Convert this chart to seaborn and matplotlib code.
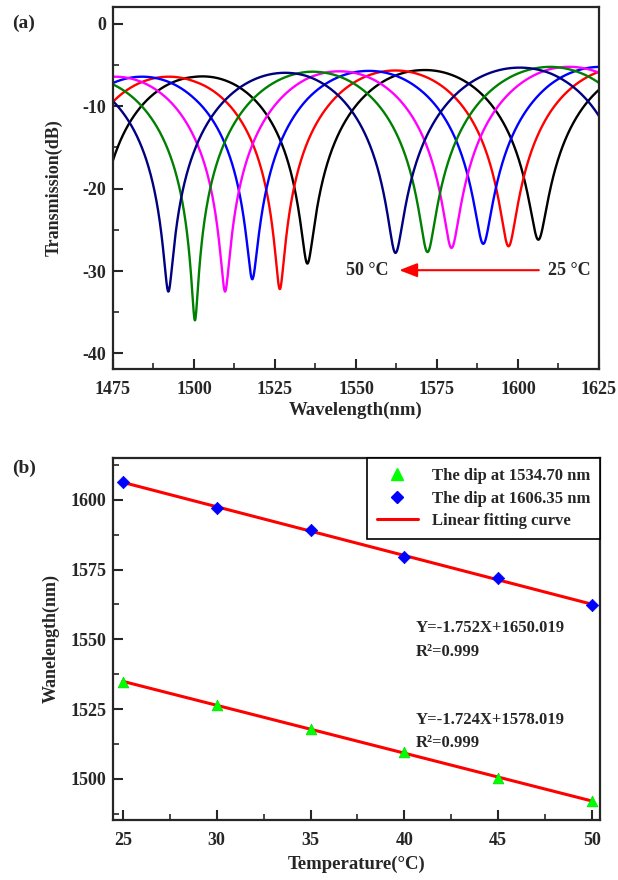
import numpy as np
import pandas as pd
import matplotlib
matplotlib.use("Agg")
import matplotlib.pyplot as plt
from matplotlib.ticker import MultipleLocator
import seaborn as sns

# ---- (a) transmission spectra, one curve per temperature ----
temps = [25, 30, 35, 40, 45, 50]
curve_colors = ["black", "red", "blue", "magenta", "green", "navy"]
dip1_nm = [1535.0, 1526.5, 1518.0, 1509.6, 1500.3, 1492.1]
dip1_db = [-29.1, -32.2, -31.0, -32.5, -36.0, -32.5]
dip2_nm = [1606.3, 1597.1, 1589.3, 1579.5, 1572.1, 1562.2]
dip2_db = [-26.2, -27.0, -26.7, -27.2, -27.7, -27.8]
# dips just outside the window (guessed from the slopes at the edges)
prev_dip_nm = [1468.5, 1458.0, 1450.0, 1441.6, 1429.0, 1424.0]
next_dip_nm = [1679.0, 1670.0, 1662.0, 1652.0, 1647.0, 1637.5]
# upper envelope of the fringes
env_nm = [1475, 1500, 1535, 1570, 1610, 1625]
env_db = [-6.4, -6.4, -5.8, -5.6, -5.2, -5.2]

# ---- (b) dip wavelength vs temperature ----
temp_b = [25, 30, 35, 40, 45, 50]
dip_low = [1534.7, 1526.5, 1518.0, 1509.6, 1500.3, 1492.1]
dip_high = [1606.35, 1597.1, 1589.3, 1579.5, 1572.1, 1562.2]
eq_high = ["Y=-1.752X+1650.019", "R²=0.999"]
eq_low = ["Y=-1.724X+1578.019", "R²=0.999"]

# build the spectra from the read-off dips (two-beam fringe shape)
wl = np.linspace(1475, 1625, 1801)
frames = []
for i, t in enumerate(temps):
    dips = [prev_dip_nm[i], dip1_nm[i], dip2_nm[i], next_dip_nm[i]]
    depths = [dip1_db[i], dip1_db[i], dip2_db[i], dip2_db[i]]
    phase = np.interp(wl, dips, np.arange(4) * np.pi)
    i_min = 10 ** (np.interp(wl, dips, depths) / 10)
    i_max = 10 ** (np.interp(wl, env_nm, env_db) / 10)
    trans = i_min + (i_max - i_min) * np.sin(phase) ** 2
    frames.append(pd.DataFrame({"wl": wl, "db": 10 * np.log10(trans), "temp": t}))
spec = pd.concat(frames, ignore_index=True)

sns.set_theme(style="ticks")
plt.rcParams["font.family"] = ["Liberation Serif", "DejaVu Serif"]
plt.rcParams["font.weight"] = "bold"
plt.rcParams["axes.labelweight"] = "bold"
plt.rcParams["axes.linewidth"] = 1.6
plt.rcParams["axes.unicode_minus"] = False

fig = plt.figure(figsize=(6.18, 8.8), dpi=100)
ax1 = fig.add_axes([0.1828, 0.5807, 0.7864, 0.4114])
ax2 = fig.add_axes([0.1828, 0.0682, 0.788, 0.4114])

sns.lineplot(data=spec, x="wl", y="db", hue="temp", hue_order=temps,
             palette=dict(zip(temps, curve_colors)), estimator=None, sort=False,
             linewidth=1.7, legend=False, ax=ax1)
ax1.set_xlim(1475, 1625)
ax1.set_ylim(-41.9, 2.07)
ax1.xaxis.set_major_locator(MultipleLocator(25))
ax1.xaxis.set_minor_locator(MultipleLocator(12.5))
ax1.yaxis.set_major_locator(MultipleLocator(10))
ax1.yaxis.set_minor_locator(MultipleLocator(5))
ax1.set_xlabel("Wavelength(nm)", fontsize=13.5)
ax1.set_ylabel("Transmission(dB)", fontsize=13)
ax1.xaxis.set_label_coords(0.5, -0.091)
ax1.yaxis.set_label_coords(-0.103, 0.5)

# temperature arrow
ax1.annotate("", xy=(1562.5, -29.9), xytext=(1607.3, -29.9),
             arrowprops=dict(arrowstyle="-|>,head_length=0.9,head_width=0.35",
                             color="red", lw=1.5))
ax1.text(1559.9, -29.9, "50 °C", ha="right", va="center", fontsize=13, fontweight="bold")
ax1.text(1609.3, -29.9, "25 °C", ha="left", va="center", fontsize=13, fontweight="bold")

# ---- panel (b) ----
sns.regplot(x=temp_b, y=dip_low, ci=None, scatter=False, color="red",
            line_kws=dict(lw=2.2), ax=ax2)
sns.regplot(x=temp_b, y=dip_high, ci=None, scatter=False, color="red",
            line_kws=dict(lw=2.2), ax=ax2)
sns.scatterplot(x=temp_b, y=dip_low, marker="^", color="#00ff00", s=60,
                edgecolor="#00dd00", linewidth=0.5, zorder=5, ax=ax2)
sns.scatterplot(x=temp_b, y=dip_high, marker="D", color="#0000ff", s=40,
                edgecolor="#0000ff", linewidth=0.5, zorder=5, ax=ax2)
ax2.set_xlim(24.47, 50.43)
ax2.set_ylim(1485.3, 1615.0)
ax2.xaxis.set_major_locator(MultipleLocator(5))
ax2.xaxis.set_minor_locator(MultipleLocator(2.5))
ax2.yaxis.set_major_locator(MultipleLocator(25))
ax2.yaxis.set_minor_locator(MultipleLocator(12.5))
ax2.set_xlabel("Temperature(°C)", fontsize=13.5)
ax2.set_ylabel("Wanelength(nm)", fontsize=13)
ax2.xaxis.set_label_coords(0.5, -0.1)
ax2.yaxis.set_label_coords(-0.109, 0.5)

tri = plt.Line2D([], [], marker="^", color="#00ff00", ls="", markersize=8)
dia = plt.Line2D([], [], marker="D", color="#0000ff", ls="", markersize=6)
fit = plt.Line2D([], [], color="red", lw=2.2)
leg = ax2.legend([tri, dia, fit],
                 ["The dip at 1534.70 nm", "The dip at 1606.35 nm", "Linear fitting curve"],
                 loc="upper right", borderaxespad=0, fancybox=False, framealpha=1,
                 edgecolor="black", handlelength=2.5, labelspacing=0.4,
                 borderpad=0.6, prop=dict(size=12, weight="bold"))
leg.get_frame().set_linewidth(1.2)

ax2.text(40.62, 1554.2, eq_high[0], ha="left", va="center", fontsize=12, fontweight="bold")
ax2.text(40.62, 1545.6, eq_high[1], ha="left", va="center", fontsize=12, fontweight="bold")
ax2.text(40.62, 1521.2, eq_low[0], ha="left", va="center", fontsize=12, fontweight="bold")
ax2.text(40.62, 1513.0, eq_low[1], ha="left", va="center", fontsize=12, fontweight="bold")

for ax in (ax1, ax2):
    ax.tick_params(which="both", direction="in", top=False, right=False, labelsize=13)
    ax.tick_params(which="major", length=7, width=1.5, pad=9)
    ax.tick_params(which="minor", length=4, width=1.2)
    ax.tick_params(axis="y", which="major", pad=5)
    for lab in ax.get_xticklabels() + ax.get_yticklabels():
        lab.set_fontweight("bold")
    for sp in ax.spines.values():
        sp.set_visible(True)
        sp.set_linewidth(1.6)

fig.text(12 / 618, 1 - 23 / 880, "(a)", fontsize=14, fontweight="bold", va="center")
fig.text(12 / 618, 1 - 468 / 880, "(b)", fontsize=14, fontweight="bold", va="center")

fig.savefig("out.png", dpi=100)
